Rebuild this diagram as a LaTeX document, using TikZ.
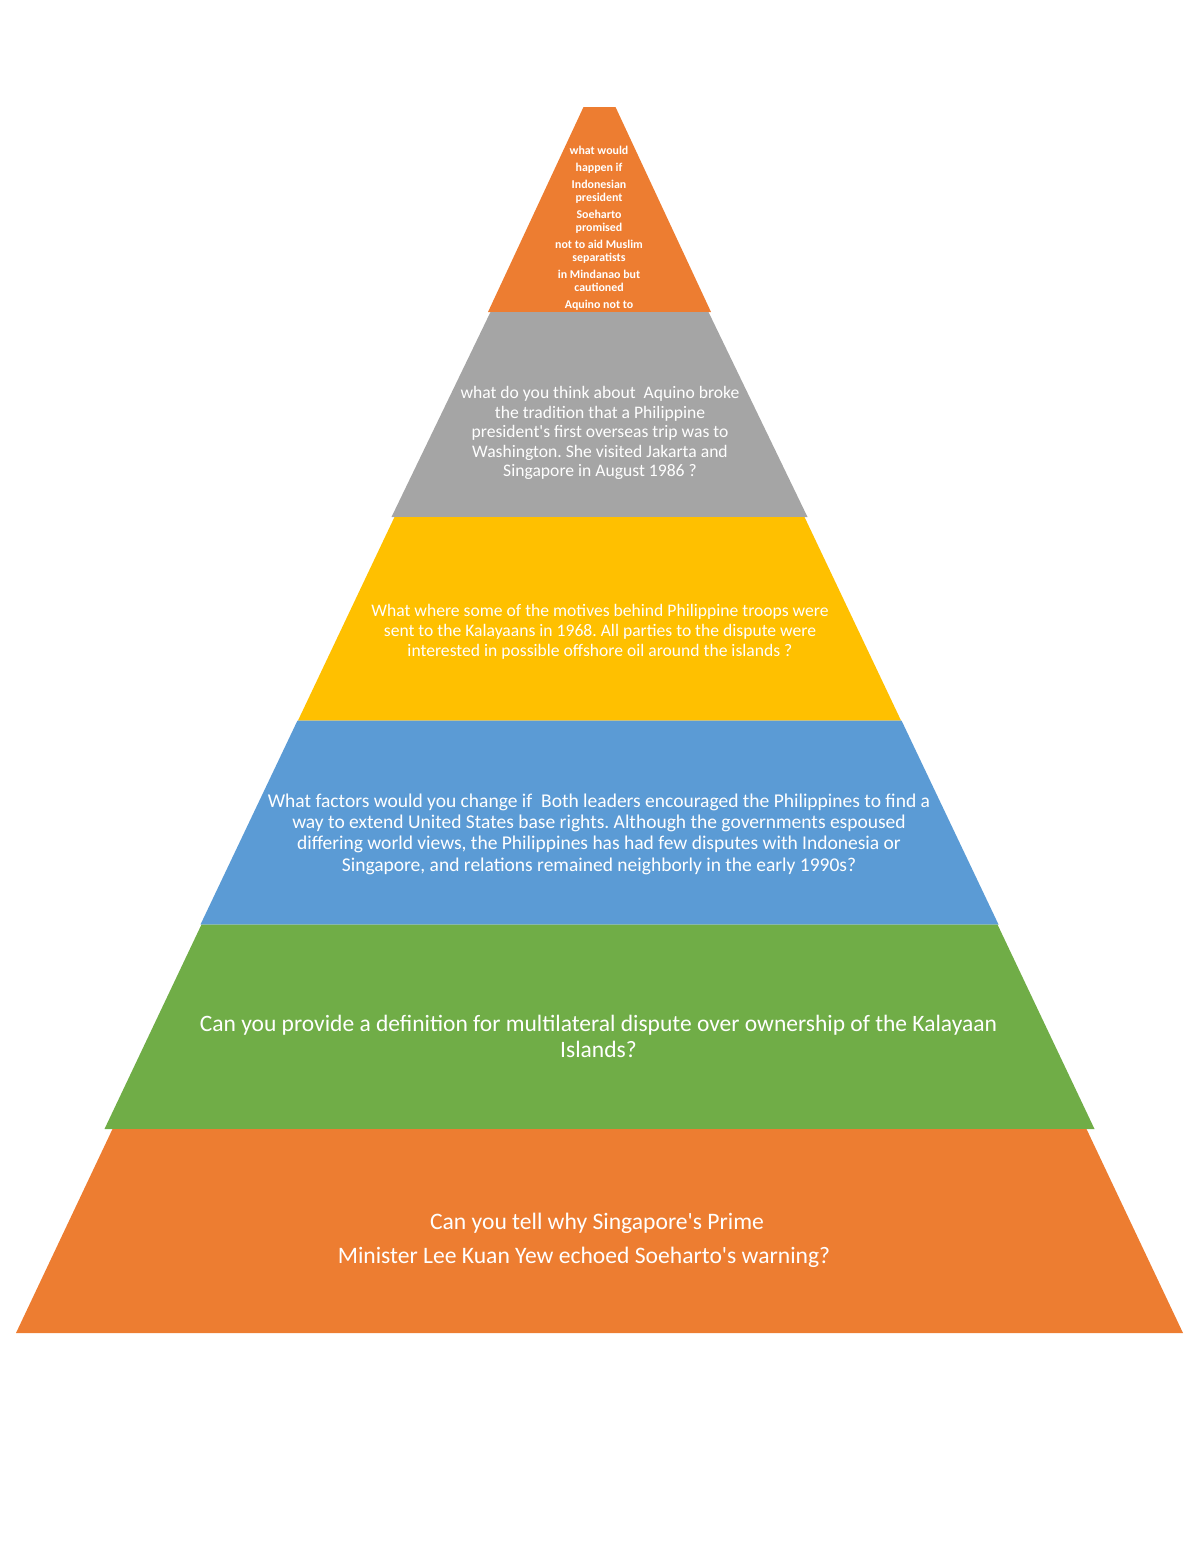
\documentclass[tikz,border=0pt]{standalone}
\usepackage{fontspec}
\setmainfont{Carlito}[Ligatures=TeXOff]
\frenchspacing
\definecolor{tOrange}{HTML}{ED7D31}
\definecolor{tGray}{HTML}{A5A5A5}
\definecolor{tGold}{HTML}{FFC000}
\definecolor{tBlue}{HTML}{5B9BD5}
\definecolor{tGreen}{HTML}{70AD47}
\tikzset{
  tier/.style={draw=none},
  tiertext/.style={text=white, align=center, inner sep=0pt}
}
\begin{document}
\begin{tikzpicture}[x=1pt,y=-1pt]
\useasboundingbox (0,0) rectangle (1200,1553);
\def\cx{599.5}
% tiers (top half-width, bottom half-width, top y, bottom y)
\fill[tOrange] (\cx-16,107) -- (\cx+16,107) -- (\cx+111.5,312) -- (\cx-111.5,312) -- cycle;
\fill[tGray]   (\cx-109,312) -- (\cx+109,312) -- (\cx+208,517) -- (\cx-208,517) -- cycle;
\fill[tGold]   (\cx-205,517) -- (\cx+205,517) -- (\cx+301.5,720.5) -- (\cx-301.5,720.5) -- cycle;
\fill[tBlue]   (\cx-302,720.5) -- (\cx+302,720.5) -- (\cx+399,924.5) -- (\cx-399,924.5) -- cycle;
\fill[tGreen]  (\cx-398,924.5) -- (\cx+398,924.5) -- (\cx+495,1129) -- (\cx-495,1129) -- cycle;
\fill[tOrange] (\cx-487,1129) -- (\cx+487,1129) -- (\cx+583.5,1333) -- (\cx-583.5,1333) -- cycle;

\node[tiertext, font=\fontsize{11.9}{13}\selectfont\bfseries] (t1) at (599,228)
  {what would\\[4pt] happen if\\[4pt] Indonesian\\ president\\[4pt] Soeharto\\ promised\\[4pt] not to aid Muslim\\ separatists\\[4pt] in Mindanao but\\ cautioned\\[4pt] Aquino not to};

\node[tiertext, font=\fontsize{17.6}{19.5}\selectfont] (t2) at (600,433)
  {what do you think about~ Aquino broke\\ the tradition that a Philippine\\ president's first overseas trip was to\\ Washington. She visited Jakarta and\\ Singapore in August 1986 ?};

\node[tiertext, font=\fontsize{17.6}{19.8}\selectfont] (t3) at (600,632)
  {What where some of the motives behind Philippine troops were\\ sent to the Kalayaans in 1968. All parties to the dispute were\\ interested in possible offshore oil around the islands ?};

\node[tiertext, font=\fontsize{19.5}{21.3}\selectfont] (t4) at (599,834)
  {What factors would you change if~ Both leaders encouraged the Philippines to find a\\ way to extend United States base rights. Although the governments espoused\\ differing world views, the Philippines has had few disputes with Indonesia or\\ Singapore, and relations remained neighborly in the early 1990s?};

\node[tiertext, font=\fontsize{23.5}{26}\selectfont] (t5) at (598.5,1036)
  {Can you provide a definition for multilateral dispute over ownership of the Kalayaan\\ Islands?};

\node[tiertext, font=\fontsize{23.6}{26}\selectfont] (t6a) at (597,1223) {Can you tell why Singapore's Prime};
\node[tiertext, font=\fontsize{23.6}{26}\selectfont] (t6b) at (584,1257) {Minister Lee Kuan Yew echoed Soeharto's warning?};
\end{tikzpicture}
\end{document}
